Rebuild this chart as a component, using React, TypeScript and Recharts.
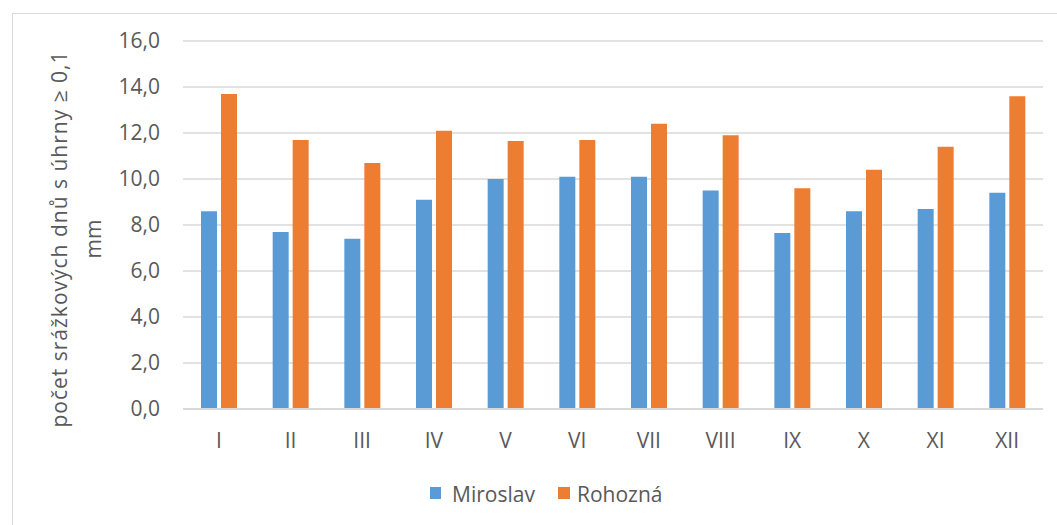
import { BarChart, Bar, XAxis, YAxis, CartesianGrid, Legend } from 'recharts';

// months (Roman numerals)
const months = ['I', 'II', 'III', 'IV', 'V', 'VI', 'VII', 'VIII', 'IX', 'X', 'XI', 'XII'];
const miroslav = [8.6, 7.7, 7.4, 9.1, 10.0, 10.1, 10.1, 9.5, 7.65, 8.6, 8.7, 9.4];
const rohozna = [13.7, 11.7, 10.7, 12.1, 11.65, 11.7, 12.4, 11.9, 9.6, 10.4, 11.4, 13.6];
const yTicks = [0, 2, 4, 6, 8, 10, 12, 14, 16];

const data = months.map((m, i) => ({ month: m, miroslav: miroslav[i], rohozna: rohozna[i] }));

const FONT = '"Open Sans", sans-serif';
const TEXT = '#595959';
const GRID = '#D9D9D9';
const BLUE = '#5B9BD5';
const ORANGE = '#ED7D31';

const fmt = (v: number) => v.toFixed(1).replace('.', ',');

const YLabel = () => (
  <text transform="rotate(-90)" textAnchor="middle" fill={TEXT} fontSize={21} fontFamily={FONT}>
    <tspan x={-239} y={67} letterSpacing={1}>počet srážkových dnů s úhrny ≥ 0,1</tspan>
    <tspan x={-239} y={101}>mm</tspan>
  </text>
);

const renderLegend = () => (
  <svg width={1057} height={40} style={{ display: 'block' }}>
    <rect x={430} y={12} width={11} height={12} fill={BLUE} />
    <text x={452} y={27} fill={TEXT} fontSize={21} fontFamily={FONT}>Miroslav</text>
    <rect x={558} y={12} width={12} height={12} fill={ORANGE} />
    <text x={577} y={27} fill={TEXT} fontSize={21} fontFamily={FONT}>Rohozná</text>
  </svg>
);

export default function App() {
  return (
    <div style={{ position: 'absolute', left: 0, top: 0, width: 1057, height: 525, background: '#fff', fontFamily: FONT }}>
      <div style={{ position: 'absolute', left: 12, top: 13, right: 0, bottom: 0, borderLeft: `1px solid ${GRID}`, borderTop: `1px solid ${GRID}` }} />
      <BarChart
        width={1057}
        height={525}
        data={data}
        margin={{ top: 41, right: 14, left: 0, bottom: 10 }}
        barSize={16}
        barGap={4}
        style={{ position: 'absolute', left: 0, top: 0 }}
      >
        <CartesianGrid vertical={false} stroke={GRID} strokeWidth={1.5} />
        <XAxis
          dataKey="month"
          height={66}
          axisLine={{ stroke: GRID, strokeWidth: 2 }}
          tickLine={false}
          tickSize={0}
          tickMargin={24}
          interval={0}
          tick={{ fill: TEXT, fontSize: 21, fontFamily: FONT }}
        />
        <YAxis
          width={183}
          domain={[0, 16]}
          ticks={yTicks}
          interval={0}
          axisLine={false}
          tickLine={false}
          tickSize={0}
          tickMargin={23}
          tickFormatter={fmt}
          tick={{ fill: TEXT, fontSize: 21, fontFamily: FONT }}
          label={<YLabel />}
        />
        <Legend
          verticalAlign="bottom"
          content={renderLegend}
          wrapperStyle={{ left: 0, width: 1057, height: 40 }}
        />
        <Bar dataKey="miroslav" name="Miroslav" fill={BLUE} isAnimationActive={false} />
        <Bar dataKey="rohozna" name="Rohozná" fill={ORANGE} isAnimationActive={false} />
      </BarChart>
    </div>
  );
}
